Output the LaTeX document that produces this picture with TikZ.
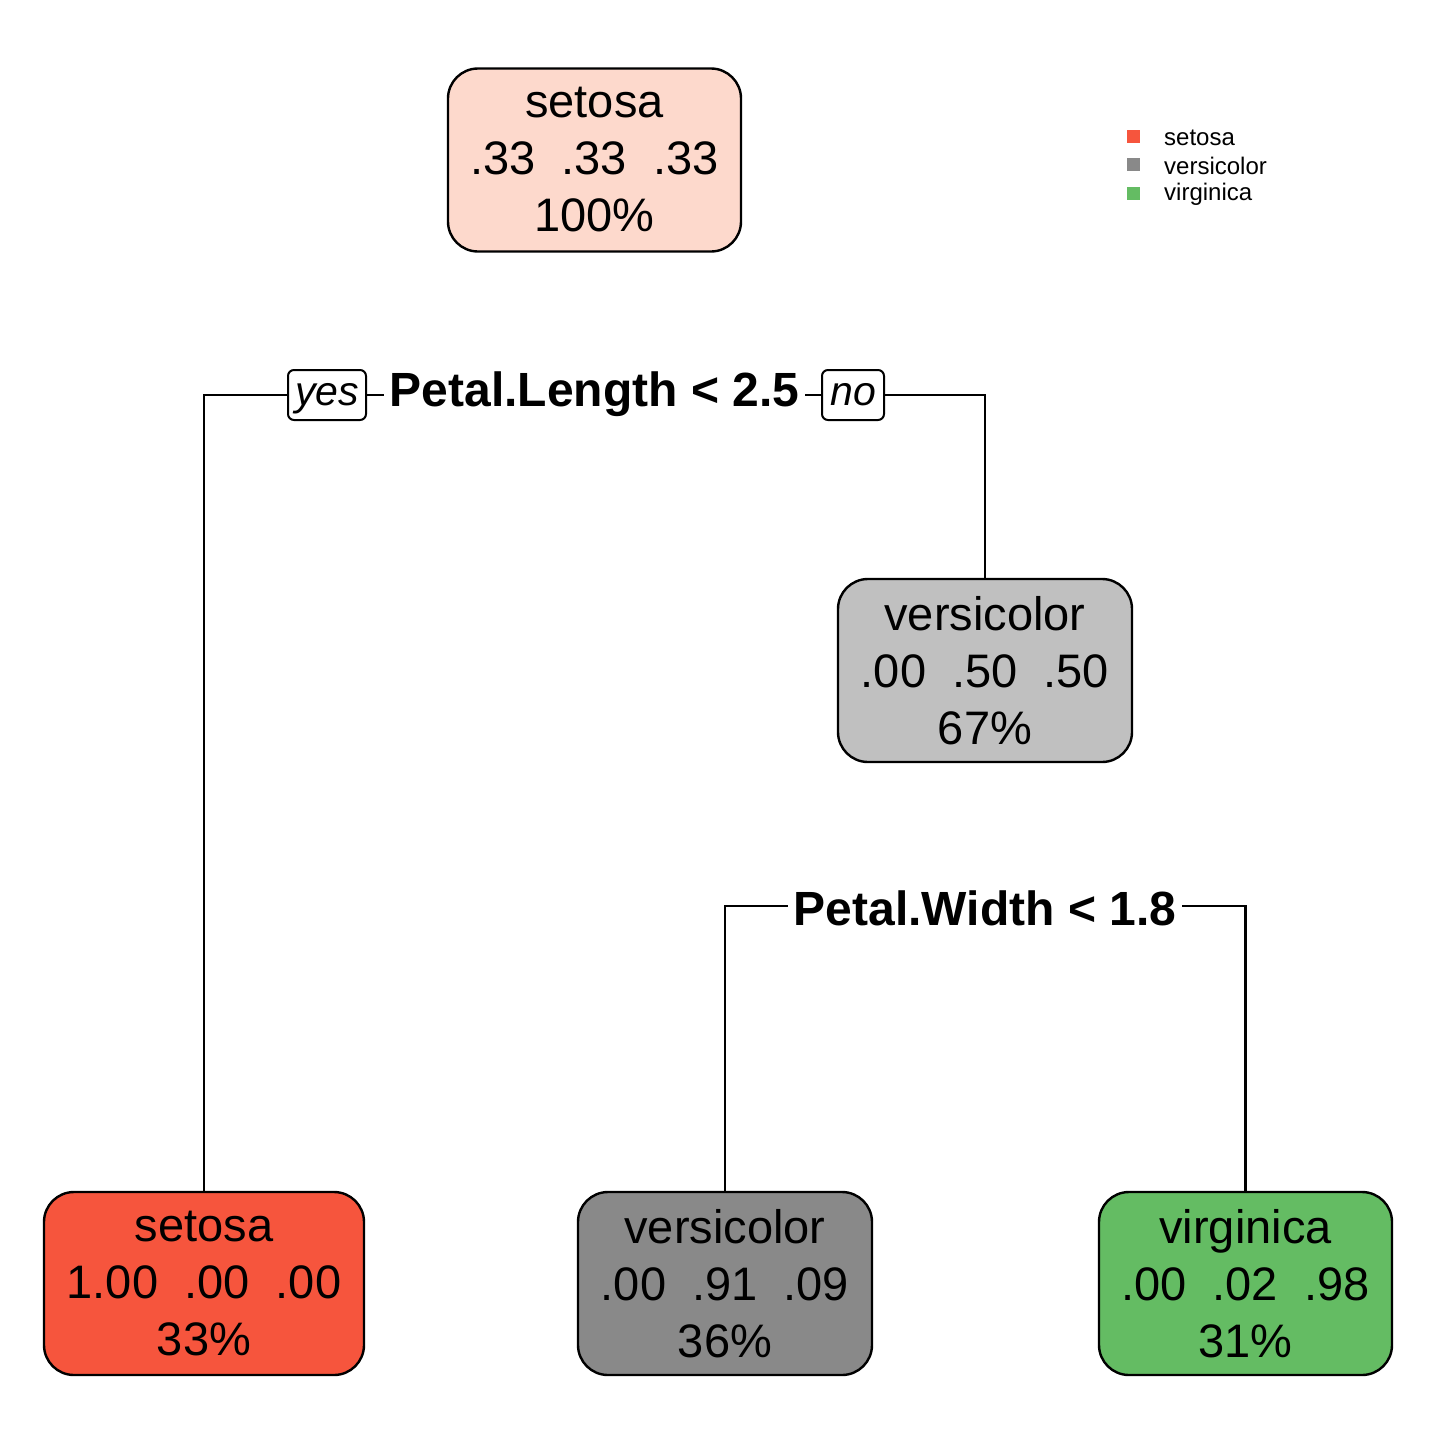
\documentclass[tikz,border=0pt]{standalone}
\usepackage{fontspec}
\setmainfont{Liberation Sans}
\usetikzlibrary{backgrounds}
\definecolor{rootfill}{RGB}{253,217,204}
\definecolor{setosafill}{RGB}{246,85,61}
\definecolor{midgray}{RGB}{192,192,192}
\definecolor{dkgray}{RGB}{137,137,137}
\definecolor{greenfill}{RGB}{100,188,99}
\tikzset{
  treebox/.style={draw=black, line width=2.4pt, rounded corners=30pt, align=center,
    inner sep=0pt, minimum height=183pt,
    font=\fontsize{47}{57}\selectfont},
  splitlab/.style={fill=white, inner sep=6pt, font=\fontsize{48}{55}\bfseries\selectfont},
  yesno/.style={draw=black, fill=white, line width=2pt, rounded corners=6pt, inner sep=0pt,
    minimum height=50pt, text height=27pt, text depth=7pt,
    font=\fontsize{41}{48}\itshape\selectfont},
  conn/.style={line width=2.4pt},
  legsq/.style={fill=#1, minimum size=13pt, inner sep=0pt},
  legtxt/.style={anchor=west, inner sep=0pt, font=\fontsize{24}{28}\selectfont}
}
\newcommand{\gp}{\hspace{0.556em}}
\begin{document}
\begin{tikzpicture}[x=1pt,y=-1pt]
\useasboundingbox (0,0) rectangle (1440,1440);
% nodes
\node[treebox, fill=rootfill, minimum width=293pt] (root) at (594.5,160)
  {setosa\\.33\gp.33\gp.33\\100\%};
\node[treebox, fill=midgray, minimum width=294pt] (mid) at (985,670.5)
  {versicolor\\.00\gp.50\gp.50\\67\%};
\node[treebox, fill=setosafill, minimum width=320pt] (l1) at (204,1283.5)
  {setosa\\1.00\gp.00\gp.00\\33\%};
\node[treebox, fill=dkgray, minimum width=294pt] (l2) at (725,1283.5)
  {versicolor\\.00\gp.91\gp.09\\36\%};
\node[treebox, fill=greenfill, minimum width=293pt] (l3) at (1245.5,1283.5)
  {virginica\\.00\gp.02\gp.98\\31\%};
% split labels
\node[splitlab] (s1) at (594.5,394) {Petal.Length < 2.5};
\node[splitlab] (s2) at (985,908) {Petal.Width < 1.8};
\node[yesno, minimum width=78pt] (yes) at (327,395) {yes};
\node[yesno, minimum width=62pt] (no) at (853,395) {no};
\coordinate (j1) at (594.5,395);
\coordinate (j2) at (985,906);
% connectors
\begin{pgfonlayer}{background}
\draw[conn] (l1.north) |- (j1) -| (mid.north);
\draw[conn] (l2.north) |- (j2) -| (l3.north);
\end{pgfonlayer}
% legend
\node[legsq=setosafill] (k1) at (1133.5,136) {};
\node[legsq=dkgray] (k2) at (1133.5,164.5) {};
\node[legsq=greenfill] (k3) at (1133.5,193) {};
\node[legtxt] (t1) at (1164,137.5) {setosa};
\node[legtxt] (t2) at (1164,166) {versicolor};
\node[legtxt] (t3) at (1164,194.5) {virginica};
\end{tikzpicture}
\end{document}
